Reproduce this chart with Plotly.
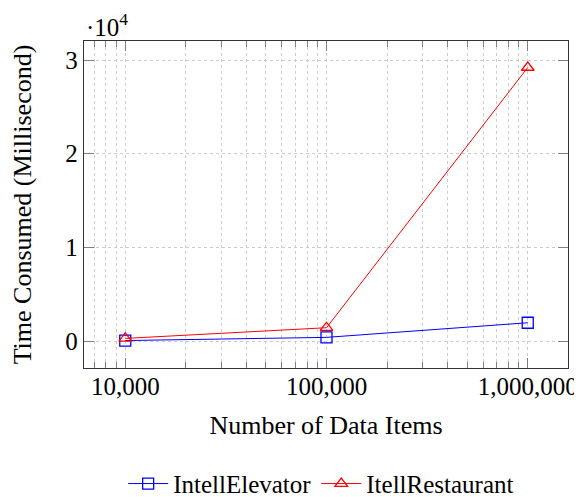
import plotly.graph_objects as go

data_items = [10000, 100000, 1000000]
elevator_ms = [50, 390, 1950]
restaurant_ms = [280, 1420, 29200]
x_tick_vals = [10000, 100000, 1000000]
x_tick_text = ["10,000", "100,000", "1,000,000"]
y_tick_vals = [0, 10000, 20000, 30000]
y_tick_text = ["0", "1", "2", "3"]

FONT = "Liberation Serif, Times New Roman, serif"
FS = 26
TFS = 25
fig = go.Figure()
fig.add_trace(go.Scatter(
    x=data_items, y=elevator_ms, name="IntellElevator", mode="lines+markers",
    line=dict(color="#0000ff", width=1),
    marker=dict(symbol="square-open", size=11, color="#0000ff", line=dict(width=1.3)),
))
fig.add_trace(go.Scatter(
    x=data_items, y=restaurant_ms, name="ItellRestaurant", mode="lines+markers",
    line=dict(color="#ff0000", width=1),
    marker=dict(symbol="triangle-up-open", size=11, color="#ff0000", line=dict(width=1.3)),
))

grid = "#cccccc"
tickc = "#808080"
# page body has an 8px margin, so the figure is sized/offset to compensate
fig.update_layout(
    width=574, height=489,
    margin=dict(l=76, r=14, t=33, b=129),
    plot_bgcolor="white", paper_bgcolor="white",
    font=dict(family=FONT, size=FS, color="black"),
    showlegend=True,
    legend=dict(orientation="h", xref="paper", x=0.49, xanchor="center",
                yref="container", y=0.027, yanchor="middle",
                font=dict(family=FONT, size=TFS), bgcolor="rgba(0,0,0,0)",
                itemwidth=40, tracegroupgap=0),
    xaxis=dict(
        type="log", range=[3.795, 6.200], automargin=False,
        tickmode="array", tickvals=x_tick_vals, ticktext=x_tick_text,
        ticks="inside", ticklen=10, tickcolor=tickc, tickwidth=1,
        ticklabelstandoff=-4, ticklabeloverflow="allow",
        showline=True, linecolor="#333333", linewidth=1.3, mirror="ticks",
        showgrid=True, gridcolor=grid, griddash="dot", gridwidth=0.8,
        zeroline=False,
        minor=dict(ticks="inside", ticklen=6, tickcolor=tickc, dtick="D1",
                   showgrid=True, gridcolor=grid, griddash="dot", gridwidth=0.8),
        title=dict(text="Number of Data Items", font=dict(family=FONT, size=FS), standoff=16),
        tickfont=dict(family=FONT, size=TFS),
    ),
    yaxis=dict(
        range=[-2880, 32030], automargin=False,
        tickmode="array", tickvals=y_tick_vals, ticktext=y_tick_text,
        ticks="inside", ticklen=10, tickcolor=tickc, tickwidth=1,
        showline=True, linecolor="#333333", linewidth=1.3, mirror="ticks",
        showgrid=True, gridcolor=grid, griddash="dot", gridwidth=0.8,
        zeroline=False,
        title=dict(text="Time Consumed (Millisecond)", font=dict(family=FONT, size=FS), standoff=26),
        tickfont=dict(family=FONT, size=TFS),
    ),
)
fig.add_annotation(
    text="·10<sup>4</sup>", xref="paper", yref="paper", x=0, y=1,
    xanchor="left", yanchor="bottom", showarrow=False,
    font=dict(family=FONT, size=TFS), xshift=0, yshift=-2,
)
fig.write_html("out.html")
